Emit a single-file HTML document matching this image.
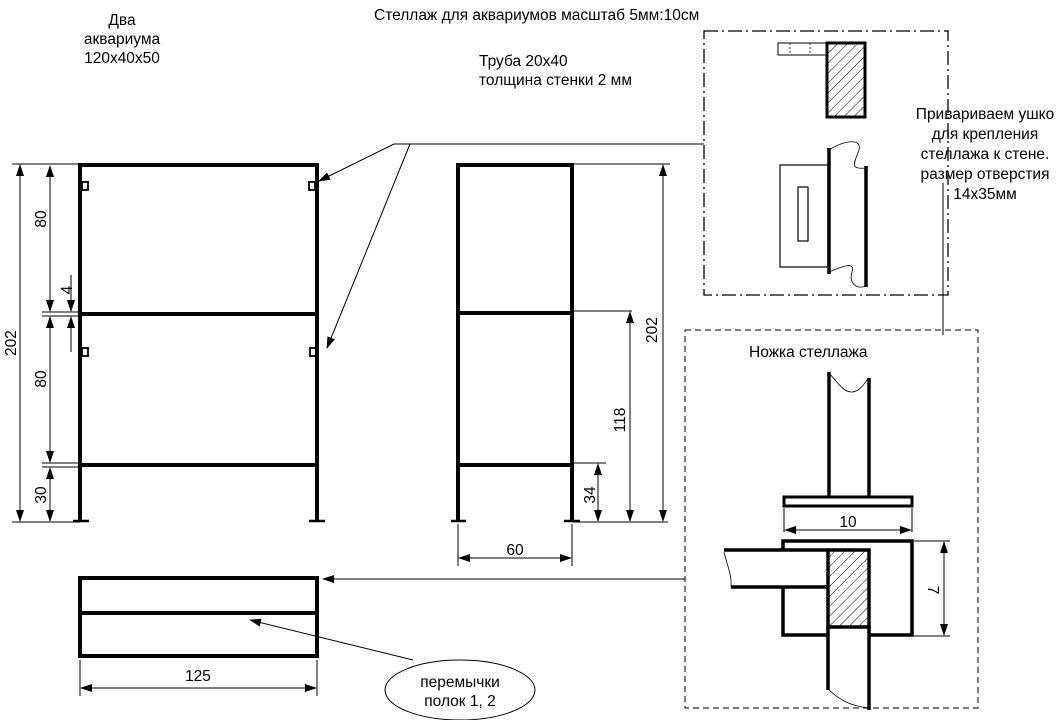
<!DOCTYPE html>
<html><head><meta charset="utf-8"><style>
html,body{margin:0;padding:0;background:#fff;}
svg{display:block;font-family:"Liberation Sans",Arial,sans-serif;}
</style></head><body>
<svg width="1062" height="720" viewBox="0 0 1062 720" xmlns="http://www.w3.org/2000/svg">
<defs>
<marker id="a" markerWidth="12" markerHeight="8" refX="11" refY="4" orient="auto" markerUnits="userSpaceOnUse"><path d="M0,0 L12,4 L0,8 z" fill="#000"/></marker>
<marker id="b" markerWidth="12" markerHeight="8" refX="1" refY="4" orient="auto" markerUnits="userSpaceOnUse"><path d="M12,0 L0,4 L12,8 z" fill="#000"/></marker>
<pattern id="h" width="7" height="7" patternUnits="userSpaceOnUse" patternTransform="rotate(45)"><line x1="0" y1="0" x2="0" y2="7" stroke="#000" stroke-width="1"/></pattern>
</defs>
<g font-size="15.5" fill="#000">
<text x="374" y="20">Стеллаж для аквариумов масштаб 5мм:10см</text>
<text x="122" y="25" text-anchor="middle">Два</text>
<text x="122" y="44" text-anchor="middle">аквариума</text>
<text x="122" y="63" text-anchor="middle">120х40х50</text>
<text x="479" y="66">Труба 20х40</text>
<text x="479" y="85">толщина стенки 2 мм</text>
<text x="985" y="119" text-anchor="middle">Привариваем ушко</text>
<text x="985" y="139" text-anchor="middle">для крепления</text>
<text x="985" y="159" text-anchor="middle">стеллажа к стене.</text>
<text x="985" y="179" text-anchor="middle">размер отверстия</text>
<text x="985" y="199" text-anchor="middle">14х35мм</text>
<text x="749" y="357">Ножка стеллажа</text>
<text x="198" y="681" text-anchor="middle">125</text>
<text x="515" y="555" text-anchor="middle">60</text>
<text x="848" y="527" text-anchor="middle">10</text>
<text x="460" y="687" text-anchor="middle">перемычки</text>
<text x="460" y="706" text-anchor="middle">полок 1, 2</text>
<text transform="translate(16,343) rotate(-90)" text-anchor="middle">202</text>
<text transform="translate(46,219) rotate(-90)" text-anchor="middle">80</text>
<text transform="translate(46,379) rotate(-90)" text-anchor="middle">80</text>
<text transform="translate(46,495) rotate(-90)" text-anchor="middle">30</text>
<text transform="translate(72,290) rotate(-90)" text-anchor="middle">4</text>
<text transform="translate(657,330) rotate(-90)" text-anchor="middle">202</text>
<text transform="translate(625,420) rotate(-90)" text-anchor="middle">118</text>
<text transform="translate(595,495) rotate(-90)" text-anchor="middle">34</text>
<text transform="translate(928,590) rotate(90)" text-anchor="middle">7</text>
</g>
<g stroke="#000" fill="none">
<g stroke-width="4">
<path d="M80,522 V165 H317 V522"/>
<line x1="80" y1="314" x2="317" y2="314"/>
<line x1="80" y1="465" x2="317" y2="465"/>
</g>
<g stroke-width="2.5"><line x1="73" y1="521" x2="89" y2="521"/><line x1="309" y1="521" x2="325" y2="521"/></g>
<g stroke-width="1.8">
<rect x="82" y="182" width="6" height="8"/><rect x="309" y="182" width="6" height="8"/>
<rect x="82" y="348" width="6" height="8"/><rect x="310" y="348" width="6" height="8"/>
</g>
<g stroke-width="1">
<line x1="12" y1="164" x2="80" y2="164"/><line x1="12" y1="522" x2="80" y2="522"/>
<line x1="42" y1="312" x2="80" y2="312"/><line x1="42" y1="316" x2="80" y2="316"/>
<line x1="42" y1="463" x2="80" y2="463"/><line x1="42" y1="467" x2="80" y2="467"/>
<line x1="20" y1="165" x2="20" y2="521" marker-start="url(#b)" marker-end="url(#a)"/>
<line x1="50" y1="166" x2="50" y2="311" marker-start="url(#b)" marker-end="url(#a)"/>
<line x1="50" y1="317" x2="50" y2="462" marker-start="url(#b)" marker-end="url(#a)"/>
<line x1="50" y1="468" x2="50" y2="521" marker-start="url(#b)" marker-end="url(#a)"/>
<line x1="71" y1="275" x2="71" y2="311" marker-end="url(#a)"/>
<line x1="71" y1="352" x2="71" y2="317" marker-end="url(#a)"/>
</g>
<g stroke-width="4">
<path d="M458,522 V165 H572 V522"/>
<line x1="458" y1="313" x2="572" y2="313"/>
<line x1="458" y1="465" x2="572" y2="465"/>
</g>
<g stroke-width="2.5"><line x1="451" y1="521" x2="466" y2="521"/><line x1="564" y1="521" x2="580" y2="521"/></g>
<g stroke-width="1">
<line x1="572" y1="164" x2="670" y2="164"/><line x1="572" y1="311" x2="632" y2="311"/>
<line x1="572" y1="463" x2="606" y2="463"/><line x1="572" y1="522" x2="668" y2="522"/>
<line x1="663" y1="165" x2="663" y2="521" marker-start="url(#b)" marker-end="url(#a)"/>
<line x1="630" y1="312" x2="630" y2="521" marker-start="url(#b)" marker-end="url(#a)"/>
<line x1="598" y1="464" x2="598" y2="521" marker-start="url(#b)" marker-end="url(#a)"/>
<line x1="458" y1="524" x2="458" y2="566"/><line x1="572" y1="524" x2="572" y2="566"/>
<line x1="459" y1="558" x2="571" y2="558" marker-start="url(#b)" marker-end="url(#a)"/>
</g>
<g stroke-width="1">
<line x1="394" y1="144" x2="704" y2="144"/>
<line x1="394" y1="144" x2="319" y2="181" marker-end="url(#a)"/>
<line x1="410" y1="144" x2="327" y2="348" marker-end="url(#a)"/>
<line x1="685" y1="579" x2="323" y2="579" marker-end="url(#a)"/>
<line x1="413" y1="660" x2="250" y2="620" marker-end="url(#a)"/>
<line x1="943" y1="183" x2="943" y2="335"/>
</g>
<g stroke-width="4">
<rect x="80" y="578" width="237" height="78"/>
<line x1="80" y1="613" x2="317" y2="613"/>
</g>
<g stroke-width="1">
<line x1="80" y1="660" x2="80" y2="696"/><line x1="317" y1="660" x2="317" y2="696"/>
<line x1="81" y1="688" x2="316" y2="688" marker-start="url(#b)" marker-end="url(#a)"/>
<ellipse cx="460" cy="690" rx="75" ry="30"/>
</g>
<rect x="704" y="31" width="244" height="264" stroke-width="1.3" stroke-dasharray="14,4,2,4"/>
<rect x="778" y="43" width="48" height="12" stroke-width="1"/>
<line x1="790" y1="43" x2="790" y2="55" stroke-width="0.8" stroke-dasharray="2,2"/>
<line x1="810" y1="43" x2="810" y2="55" stroke-width="0.8" stroke-dasharray="2,2"/>
<rect x="827" y="43" width="38" height="74" stroke-width="3" fill="url(#h)"/>
<rect x="780" y="165" width="48" height="102" stroke-width="1.2"/>
<rect x="798" y="187" width="10" height="54" stroke-width="1.2"/>
<line x1="829" y1="148" x2="829" y2="274" stroke-width="3.5"/>
<line x1="866" y1="166" x2="866" y2="287" stroke-width="3.5"/>
<path d="M829,150 C845,140 862,138 859,150 C855,162 848,170 866,168" stroke-width="0.8"/>
<path d="M829,272 C845,265 855,262 852,272 C849,282 855,290 866,286" stroke-width="0.8"/>
<rect x="685" y="330" width="293" height="378" stroke-width="1" stroke-dasharray="6,4"/>
<g stroke-width="3.5">
<line x1="829" y1="372" x2="829" y2="497"/><line x1="869" y1="378" x2="869" y2="497"/>
<rect x="784" y="497" width="128" height="9" stroke-width="3"/>
<path d="M783,550 V541 H912 V635 H869 M828,635 H783 V587"/>
<rect x="828" y="550" width="41" height="77" fill="url(#h)"/>
<line x1="724" y1="550" x2="828" y2="550"/><line x1="731" y1="587" x2="828" y2="587"/>
<line x1="828" y1="627" x2="828" y2="690"/><line x1="869" y1="627" x2="869" y2="710"/>
</g>
<g stroke-width="0.8">
<path d="M829,373 C840,385 846,397 858,390 C865,385 866,380 869,378"/>
<path d="M724,552 C727,565 732,575 731,587"/>
<path d="M829,690 C840,700 850,706 869,708"/>
</g>
<g stroke-width="1">
<line x1="784" y1="508" x2="784" y2="532"/><line x1="912" y1="508" x2="912" y2="532"/>
<line x1="785" y1="530" x2="911" y2="530" marker-start="url(#b)" marker-end="url(#a)"/>
<line x1="914" y1="541" x2="950" y2="541"/><line x1="914" y1="636" x2="950" y2="636"/>
<line x1="944" y1="542" x2="944" y2="635" marker-start="url(#b)" marker-end="url(#a)"/>
</g>
</g>
</svg>
</body></html>
